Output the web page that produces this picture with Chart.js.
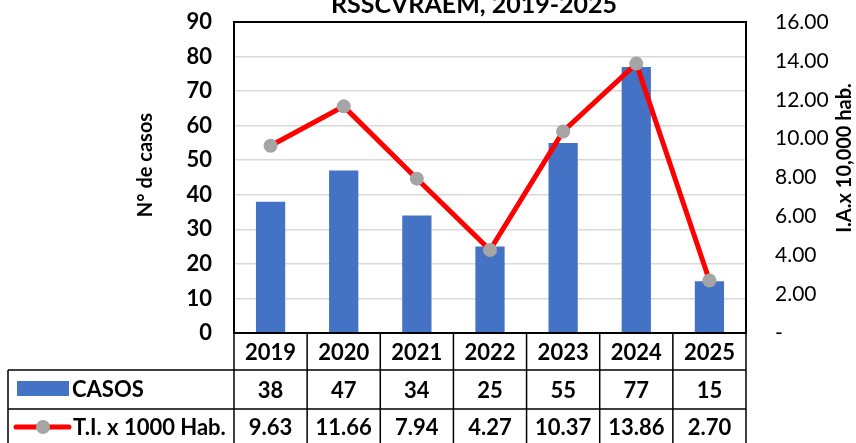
<!DOCTYPE html>
<html>
<head>
<meta charset="utf-8">
<script src="https://cdn.jsdelivr.net/npm/chart.js@4"></script>
<style>
  html, body { margin: 0; padding: 0; background: #fff; }
  #wrap { width: 856px; height: 443px; }
</style>
</head>
<body>
<div id="wrap"><canvas id="chart" width="856" height="443"></canvas></div>
<script>
// data
const years = ['2019', '2020', '2021', '2022', '2023', '2024', '2025'];
const casos = [38, 47, 34, 25, 55, 77, 15];
const tasa = [9.63, 11.66, 7.94, 4.27, 10.37, 13.86, 2.70];
const tasaLabels = ['9.63', '11.66', '7.94', '4.27', '10.37', '13.86', '2.70'];

const FONT = 'Lato, "Liberation Sans", sans-serif';
Chart.defaults.font.family = FONT;
Chart.defaults.color = '#000';

// title, axis titles, plot frame and the data table under the plot
const extras = {
    id: 'extras',
    afterDraw(chart) {
        const ctx = chart.ctx;
        const ca = chart.chartArea;
        const xs = chart.scales.x;
        const n = years.length;
        const colW = (ca.right - ca.left) / n;
        const r1 = ca.bottom + 37, r2 = r1 + 39, r3 = r2 + 39;

        ctx.save();
        // frame
        ctx.strokeStyle = '#000';
        ctx.lineWidth = 2;
        ctx.strokeRect(ca.left, ca.top, ca.right - ca.left, ca.bottom - ca.top);

        // title
        ctx.fillStyle = '#000';
        ctx.font = 'bold 25px ' + FONT;
        ctx.textAlign = 'center';
        ctx.textBaseline = 'alphabetic';
        ctx.fillText('RSSCVRAEM, 2019-2025', 474, 13);

        // axis titles
        ctx.font = 'bold 20px ' + FONT;
        ctx.textBaseline = 'middle';
        ctx.save();
        ctx.translate(146, 165);
        ctx.rotate(-Math.PI / 2);
        ctx.fillText('N° de casos', 0, 0);
        ctx.restore();
        ctx.save();
        ctx.translate(845, 158);
        ctx.rotate(-Math.PI / 2);
        ctx.fillText('I.A.x 10,000 hab.', 0, 0);
        ctx.restore();

        // table grid
        ctx.lineWidth = 1.5;
        ctx.beginPath();
        ctx.moveTo(8, r1); ctx.lineTo(ca.right, r1);
        ctx.moveTo(8, r2); ctx.lineTo(ca.right, r2);
        ctx.moveTo(8, r1); ctx.lineTo(8, r3);
        for (let k = 0; k <= n; k++) {
            const x = ca.left + k * colW;
            ctx.moveTo(x, ca.bottom); ctx.lineTo(x, r3);
        }
        ctx.stroke();

        // table text
        ctx.font = 'bold 22px ' + FONT;
        ctx.textAlign = 'center';
        years.forEach((y, i) => {
            const x = xs.getPixelForValue(i);
            ctx.fillText(y, x, (ca.bottom + r1) / 2 + 1);
            ctx.fillText(String(casos[i]), x, (r1 + r2) / 2 + 1);
            ctx.fillText(tasaLabels[i], x, (r2 + 443) / 2 + 2);
        });

        // legend keys
        ctx.fillStyle = '#4472C4';
        ctx.fillRect(17, 381, 52, 15);
        ctx.strokeStyle = '#FF0000';
        ctx.lineWidth = 5;
        ctx.lineCap = 'round';
        ctx.beginPath();
        ctx.moveTo(16, 427); ctx.lineTo(69, 427);
        ctx.stroke();
        ctx.fillStyle = '#A5A5A5';
        ctx.beginPath();
        ctx.arc(43, 427, 7, 0, Math.PI * 2);
        ctx.fill();

        ctx.fillStyle = '#000';
        ctx.textAlign = 'left';
        ctx.fillText('CASOS', 72, 390);
        ctx.fillText('T.I. x 1000 Hab.', 73, 428);
        ctx.restore();
    }
};

new Chart(document.getElementById('chart'), {
    type: 'bar',
    data: {
        labels: years,
        datasets: [
            {
                type: 'line',
                label: 'T.I. x 1000 Hab.',
                data: tasa,
                yAxisID: 'y1',
                borderColor: '#FF0000',
                borderWidth: 5,
                pointRadius: 7,
                pointBackgroundColor: '#A5A5A5',
                pointBorderColor: '#A5A5A5',
                pointBorderWidth: 0,
                order: 0
            },
            {
                type: 'bar',
                label: 'CASOS',
                data: casos,
                yAxisID: 'y',
                backgroundColor: '#4472C4',
                barPercentage: 0.4,
                categoryPercentage: 1,
                order: 1
            }
        ]
    },
    options: {
        responsive: false,
        animation: false,
        layout: { padding: { top: 22, bottom: 110, left: 0, right: 0 } },
        plugins: {
            legend: { display: false },
            tooltip: { enabled: false }
        },
        scales: {
            x: { display: false },
            y: {
                position: 'left',
                min: 0,
                max: 90,
                ticks: { stepSize: 10, padding: 22, font: { size: 22, weight: 'bold' }, color: '#000' },
                grid: { color: '#D9D9D9', lineWidth: 1.5, drawTicks: false },
                border: { display: false },
                afterFit: s => { s.width = 234; s.paddingTop = 0; s.paddingBottom = 0; }
            },
            y1: {
                position: 'right',
                min: 0,
                max: 16,
                ticks: {
                    stepSize: 2,
                    padding: 29,
                    font: { size: 21 },
                    color: '#000',
                    callback: v => v === 0 ? '-' : v.toFixed(2)
                },
                grid: { drawOnChartArea: false, drawTicks: false },
                border: { display: false },
                afterFit: s => { s.width = 110; s.paddingTop = 0; s.paddingBottom = 0; }
            }
        }
    },
    plugins: [extras]
});
</script>
</body>
</html>
